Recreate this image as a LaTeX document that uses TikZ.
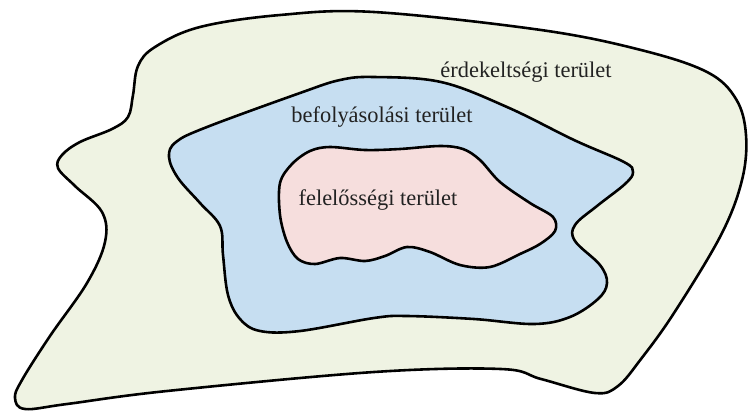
\documentclass[tikz,border=0pt]{standalone}
\usepackage{fontspec}
\setmainfont{Liberation Serif}
\usepackage{xcolor}
\usepackage{tikz}
\definecolor{ZoldHalvany}{RGB}{239,243,227}
\definecolor{KekHalvany} {RGB}{198,222,241}
\definecolor{RozsaHalvany}{RGB}{246,222,221}
\definecolor{Felirat}    {RGB}{34,34,34}

\tikzset{
  terulet/.style={draw=black,line width=2.6pt,line join=round},
  felirat/.style={text=Felirat,font=\fontsize{22.5}{26}\selectfont,inner sep=0pt}
}

\begin{document}
\begin{tikzpicture}[x=1bp,y=-1bp]
  \useasboundingbox (0,0) rectangle (748,411);
  % erdekeltsegi terulet
  \draw[terulet,fill=ZoldHalvany] plot[smooth cycle,tension=0.6] coordinates {
    (374,12) (541,30) (641,50) (707,72) (736,99) (746,135) (742,180)
    (721,235) (674,313) (641,359) (618,386) (595,393) (541,379) (501,369)
    (374,372) (167,391) (67,404) (25,409) (15,398) (22,380) (50,336)
    (87,283) (105,242) (102,212) (75,186) (58,168) (62,155) (80,142)
    (112,129) (128,117) (133,95) (138,66) (155,47) (200,27) (280,15)};
  % befolyasolasi terulet
  \draw[terulet,fill=KekHalvany] plot[smooth cycle,tension=0.6] coordinates {
    (374,77) (441,82) (507,107) (574,140) (624,162) (633,172) (625,184)
    (597,206) (575,225) (575,241) (600,265) (607,283) (598,299) (570,317)
    (534,324) (474,319) (407,316) (374,318) (300,331) (260,331) (240,319)
    (228,295) (223,255) (220,226) (200,203) (178,178) (169,157) (176,142)
    (207,127) (300,93) (340,80)};
  % felelossegi terulet
  \draw[terulet,fill=RozsaHalvany] plot[smooth cycle,tension=0.55] coordinates {
    (280,183) (292,164) (310,151) (330,147) (365,150) (400,149) (440,146)
    (463,149) (480,160) (500,182) (530,203) (553,217) (555,231) (540,244)
    (520,254) (490,267) (460,265) (430,252) (407,247) (385,256) (365,261)
    (340,258) (315,264) (298,259) (287,242) (280,215)};
  \node[felirat] (erdek)   at (526,72)  {érdekeltségi terület};
  \node[felirat] (befoly)  at (382,117) {befolyásolási terület};
  \node[felirat] (felelos) at (378,200) {felelősségi terület};
\end{tikzpicture}
\end{document}
